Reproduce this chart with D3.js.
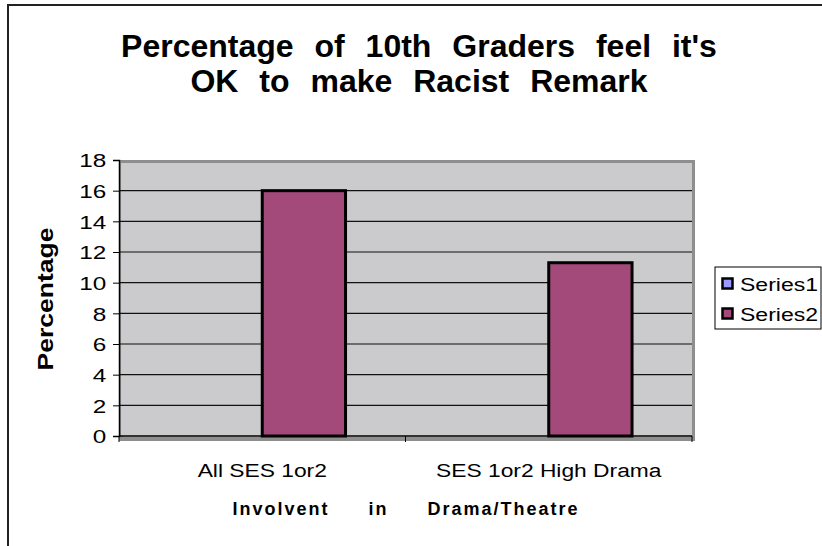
<!DOCTYPE html>
<html><head><meta charset="utf-8">
<script src="https://cdn.jsdelivr.net/npm/d3@7/dist/d3.min.js"></script>
<style>body{margin:0;background:#fff}svg{display:block}text{font-family:"Liberation Sans",Arial,sans-serif}</style>
</head><body>
<script>
const categories = ["All SES 1or2", "SES 1or2 High Drama"];
const seriesNames = ["Series1", "Series2"];
const series1 = [0, 0];
const series2 = [16, 11.3];
const yTicks = [0, 2, 4, 6, 8, 10, 12, 14, 16, 18];
const titleLines = ["Percentage of 10th Graders feel it's", "OK to make Racist Remark"];
const xTitle = "Involvent in Drama/Theatre";
const yTitle = "Percentage";
const colors = ["#9999ff", "#a44a7a"];

const W = 822, H = 546;
const svg = d3.select("body").append("svg").attr("width", W).attr("height", H);

svg.append("rect").attr("x", 8).attr("y", 5).attr("width", 900).attr("height", 700)
  .attr("fill", "#fff").attr("stroke", "#222").attr("stroke-width", 2);

const L = 119, R = 692, T = 160, B = 436;
const y = d3.scaleLinear().domain([0, 18]).range([B, T]);
const x0 = d3.scaleBand().domain(categories).range([L, R]).paddingInner(0).paddingOuter(0);
const x1 = d3.scaleBand().domain(seriesNames).range([0, x0.bandwidth()]).paddingInner(0).paddingOuter(0.72);

svg.append("rect").attr("x", L + 2).attr("y", T + 2).attr("width", R - L - 1).attr("height", B - T + 1)
  .attr("fill", "#cbcacc").attr("stroke", "#8e8e8e").attr("stroke-width", 4);
svg.append("rect").attr("x", L + 2).attr("y", T + 3).attr("width", R - L - 2).attr("height", B - T - 3)
  .attr("fill", "#cbcacc");

svg.append("g").selectAll("line").data(yTicks.filter(d => d > 0 && d < 18)).join("line")
  .attr("x1", L).attr("x2", R).attr("y1", d => y(d)).attr("y2", d => y(d))
  .attr("stroke", "#111").attr("stroke-width", 1.2);

const data = categories.map((c, i) => ({c, vals: [series1[i], series2[i]]}));
const groups = svg.append("g").selectAll("g").data(data).join("g")
  .attr("transform", d => `translate(${x0(d.c)},0)`);
groups.selectAll("rect").data(d => d.vals.map((v, j) => ({v, s: seriesNames[j], j})).filter(e => e.v > 0)).join("rect")
  .attr("x", d => x1(d.s)).attr("width", x1.bandwidth())
  .attr("y", d => y(d.v)).attr("height", d => y(0) - y(d.v))
  .attr("fill", d => colors[d.j]).attr("stroke", "#000").attr("stroke-width", 3);

const yAxis = d3.axisLeft(y).tickValues(yTicks).tickSize(6).tickPadding(0).tickFormat(d3.format("d"));
const gy = svg.append("g").attr("transform", `translate(${L},0)`).call(yAxis);
gy.select(".domain").attr("stroke", "#000").attr("stroke-width", 1.5);
gy.selectAll(".tick line").attr("stroke", "#000");
gy.selectAll(".tick text").attr("font-size", 19).attr("fill", "#000")
  .attr("font-family", "Liberation Sans, Arial, sans-serif")
  .attr("x", -10).attr("dy", "0.36em").attr("transform", "scale(1.28,1)");

const gx = svg.append("g").attr("transform", `translate(0,${B})`);
gx.append("line").attr("x1", L).attr("x2", R).attr("stroke", "#000").attr("stroke-width", 1.5);
const bounds = [L, ...categories.map(c => x0(c) + x0.bandwidth())];
gx.selectAll("line.t").data(bounds).join("line").attr("class", "t")
  .attr("x1", d => d).attr("x2", d => d).attr("y1", 0).attr("y2", 6).attr("stroke", "#000");
gx.selectAll("text").data(categories).join("text")
  .attr("transform", d => `translate(${x0(d) + x0.bandwidth() / 2},41) scale(1.2,1)`)
  .attr("text-anchor", "middle").attr("font-size", 19).attr("fill", "#000").text(d => d);

svg.append("g").selectAll("text").data(titleLines).join("text")
  .attr("x", 419).attr("y", (d, i) => 57 + i * 35)
  .attr("text-anchor", "middle").attr("font-size", 32).attr("font-weight", "bold")
  .attr("word-spacing", 12).text(d => d);

svg.append("text").attr("x", 406).attr("y", 515).attr("text-anchor", "middle")
  .attr("font-size", 18).attr("font-weight", "bold").attr("letter-spacing", 2)
  .attr("word-spacing", 32).text(xTitle);

svg.append("text").attr("transform", "translate(53,299) rotate(-90)").attr("text-anchor", "middle")
  .attr("font-size", 22).attr("font-weight", "900").attr("textLength", 143).attr("lengthAdjust", "spacingAndGlyphs")
  .attr("font-family", "DejaVu Sans, sans-serif").text(yTitle);

const lg = svg.append("g").attr("transform", "translate(715,267)");
lg.append("rect").attr("width", 106).attr("height", 62).attr("fill", "#fff").attr("stroke", "#000").attr("stroke-width", 1);
const li = lg.selectAll("g").data(seriesNames).join("g").attr("transform", (d, i) => `translate(7,${17 + i * 30})`);
li.append("rect").attr("x", 0.5).attr("y", -5.5).attr("width", 10).attr("height", 10)
  .attr("fill", (d, i) => colors[i]).attr("stroke", "#000").attr("stroke-width", 2.5);
li.append("text").attr("transform", "translate(18,7) scale(1.28,1)").attr("font-size", 18).attr("fill", "#000").text(d => d);
</script>
</body></html>
